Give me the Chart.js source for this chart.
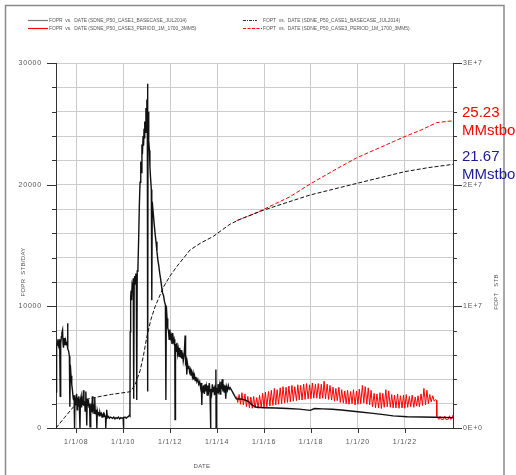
<!DOCTYPE html>
<html>
<head>
<meta charset="utf-8">
<script src="https://cdn.jsdelivr.net/npm/chart.js@4.4.0/dist/chart.umd.min.js"></script>
<style>
  html, body { margin: 0; padding: 0; background: #fff; }
</style>
</head>
<body>
<canvas id="fieldChart" width="516" height="475"></canvas>
<script>
// decimal years on x
const tickYears = [2008, 2010, 2012, 2014, 2016, 2018, 2020, 2022];

const seriesLabels = [
  'FOPR  vs.  DATE (SDNE_P50_CASE1_BASECASE_JUL2014)',
  'FOPT  vs.  DATE (SDNE_P50_CASE1_BASECASE_JUL2014)',
  'FOPR  vs.  DATE (SDNE_P50_CASE3_PERIOD_1M_1700_3MM5)',
  'FOPT  vs.  DATE (SDNE_P50_CASE3_PERIOD_1M_1700_3MM5)'
];

// FOPR base case, STB/DAY
const baseRate = [
  [2007.14, 4500], [2007.15, 6100], [2007.165, 2900], [2007.18, 6700], [2007.21, 7100], [2007.24, 6800],
  [2007.27, 7300], [2007.30, 6600], [2007.32, 2600], [2007.34, 6900], [2007.37, 7500], [2007.39, 7800],
  [2007.42, 8050], [2007.44, 6900], [2007.46, 6600], [2007.49, 7400], [2007.52, 6800], [2007.55, 7200],
  [2007.58, 6900], [2007.61, 7000], [2007.63, 8600], [2007.65, 6500], [2007.68, 6300], [2007.71, 5900],
  [2007.73, 1750], [2007.75, 5200], [2007.78, 4300], [2007.81, 3600], [2007.84, 3100], [2007.87, 2500],
  [2007.89, 2300], [2007.91, 2700], [2007.93, 0], [2007.95, 2400], [2007.97, 1900], [2007.99, 2300],
  [2008.02, 2800], [2008.04, 1500], [2008.06, 2500], [2008.09, 1800], [2008.11, 2600], [2008.13, 2200],
  [2008.16, 0], [2008.18, 2300], [2008.21, 2600], [2008.23, 1700], [2008.26, 2300], [2008.28, 1900],
  [2008.31, 3100], [2008.33, 1800], [2008.36, 2200], [2008.38, 1400], [2008.41, 3000], [2008.43, 2000],
  [2008.45, 200], [2008.47, 2400], [2008.50, 1800], [2008.52, 2300], [2008.55, 1700], [2008.57, 2000],
  [2008.59, 100], [2008.62, 1500], [2008.64, 2000], [2008.66, 1300], [2008.69, 2600], [2008.71, 1500],
  [2008.74, 1700], [2008.76, 1200], [2008.79, 2500], [2008.81, 1400], [2008.84, 1200], [2008.86, 1500],
  [2008.88, 0], [2008.90, 1400], [2008.93, 1100], [2008.95, 1300], [2008.98, 1000], [2009.01, 1300],
  [2009.04, 1100], [2009.07, 1200], [2009.10, 900], [2009.13, 1100], [2009.16, 1200], [2009.19, 950],
  [2009.22, 1050], [2009.25, 900], [2009.26, 0], [2009.28, 950], [2009.30, 1500], [2009.33, 850],
  [2009.37, 950], [2009.41, 800], [2009.45, 900], [2009.50, 850], [2009.55, 800], [2009.60, 900],
  [2009.65, 750], [2009.70, 850], [2009.75, 800], [2009.80, 900], [2009.85, 750], [2009.90, 850],
  [2009.95, 800], [2010.00, 850], [2010.01, 0], [2010.03, 850], [2010.08, 900], [2010.13, 800],
  [2010.18, 900], [2010.23, 950], [2010.27, 1050], [2010.29, 1000], [2010.30, 7900], [2010.32, 10800],
  [2010.34, 11300], [2010.36, 10500], [2010.38, 11700], [2010.41, 11400], [2010.43, 12300], [2010.45, 2400],
  [2010.47, 11800], [2010.49, 12500], [2010.51, 11900], [2010.54, 12700], [2010.56, 12200], [2010.58, 2300],
  [2010.60, 12900], [2010.63, 13200], [2010.66, 15500], [2010.69, 18300], [2010.72, 20200], [2010.75, 21900],
  [2010.77, 21000], [2010.80, 23300], [2010.82, 22500], [2010.85, 24000], [2010.87, 23200], [2010.89, 24600],
  [2010.91, 23800], [2010.93, 25200], [2010.95, 24300], [2010.97, 26300], [2010.99, 24800], [2011.01, 27000],
  [2011.03, 25500], [2011.04, 28300], [2011.05, 3000], [2011.06, 26000], [2011.08, 24900], [2011.10, 23600],
  [2011.12, 22800], [2011.14, 21500], [2011.16, 20800], [2011.20, 19600], [2011.22, 10500], [2011.24, 18600],
  [2011.28, 17700], [2011.32, 16800], [2011.36, 16000], [2011.40, 15300], [2011.44, 14500], [2011.48, 13800],
  [2011.52, 13300], [2011.56, 12700], [2011.60, 12200], [2011.64, 11600], [2011.68, 11100], [2011.72, 10900],
  [2011.76, 10400], [2011.80, 10100], [2011.82, 2300], [2011.84, 10000], [2011.87, 9000], [2011.90, 8200],
  [2011.93, 8000], [2011.96, 7300], [2011.99, 8100], [2012.02, 7400], [2012.05, 7600], [2012.08, 6900],
  [2012.11, 7800], [2012.14, 7100], [2012.17, 7300], [2012.20, 6700], [2012.21, 700], [2012.23, 6900],
  [2012.26, 6300], [2012.29, 7000], [2012.32, 6100], [2012.35, 6500], [2012.38, 5900], [2012.41, 6600],
  [2012.44, 5800], [2012.47, 6400], [2012.50, 5700], [2012.53, 6200], [2012.56, 5500], [2012.60, 6000],
  [2012.64, 7600], [2012.66, 5400], [2012.69, 5600], [2012.71, 4400], [2012.74, 5300], [2012.77, 4900],
  [2012.80, 5100], [2012.83, 4600], [2012.86, 4800], [2012.89, 4300], [2012.92, 4600], [2012.95, 4200],
  [2012.98, 4500], [2013.01, 4000], [2013.04, 4300], [2013.07, 3900], [2013.10, 4200], [2013.14, 3800],
  [2013.18, 4000], [2013.22, 3600], [2013.26, 3800], [2013.30, 3300], [2013.33, 3700], [2013.35, 1900],
  [2013.37, 3400], [2013.40, 2900], [2013.43, 3500], [2013.46, 2800], [2013.49, 3600], [2013.52, 3000],
  [2013.55, 3400], [2013.58, 2700], [2013.61, 3500], [2013.64, 3100], [2013.67, 3700], [2013.70, 2900],
  [2013.72, 0], [2013.74, 3200], [2013.77, 2800], [2013.80, 3600], [2013.83, 3000], [2013.86, 3400],
  [2013.89, 2700], [2013.92, 3500], [2013.95, 4800], [2013.96, 0], [2013.98, 3300], [2014.01, 2900],
  [2014.04, 3600], [2014.07, 3100], [2014.10, 3500], [2014.13, 2800], [2014.16, 3800], [2014.19, 3200],
  [2014.22, 4000], [2014.25, 3000], [2014.28, 3600], [2014.31, 2900], [2014.34, 3500], [2014.37, 2400],
  [2014.40, 3400], [2014.44, 3100], [2014.48, 3500], [2014.52, 3200], [2014.56, 3300], [2014.62, 3100],
  [2014.69, 2850], [2014.76, 2600], [2014.82, 2400], [2014.90, 2380], [2015.00, 2380], [2015.12, 2350],
  [2015.25, 2250], [2015.35, 2150], [2015.49, 1900], [2015.60, 1780], [2015.70, 1700], [2016.00, 1670],
  [2016.50, 1640], [2017.00, 1600], [2017.50, 1550], [2017.97, 1450], [2018.15, 1600], [2018.50, 1570],
  [2018.90, 1540], [2019.30, 1480], [2019.70, 1400], [2020.00, 1330], [2020.65, 1200], [2021.10, 1100],
  [2021.50, 1000], [2022.10, 930], [2022.70, 900], [2023.30, 880], [2024.05, 850]
];

// FOPR case 3 (periodic), STB/DAY
const caseRate = [
  [2014.84, 2600], [2014.88, 2100], [2014.94, 2750], [2015.00, 1950], [2015.06, 2900], [2015.12, 1900],
  [2015.19, 2800], [2015.25, 1750], [2015.31, 2600], [2015.38, 1650], [2015.44, 2550], [2015.50, 1620],
  [2015.56, 2600], [2015.62, 1640], [2015.69, 2500], [2015.75, 1620], [2015.81, 2700], [2015.88, 1680],
  [2015.94, 2850], [2016.00, 1700], [2016.06, 2950], [2016.12, 1750], [2016.19, 3000], [2016.25, 1800],
  [2016.31, 3100], [2016.38, 1850], [2016.44, 3250], [2016.50, 1900], [2016.56, 3150], [2016.62, 1950],
  [2016.69, 3300], [2016.75, 2000], [2016.81, 3400], [2016.88, 2050], [2016.94, 3350], [2017.00, 2100],
  [2017.06, 3450], [2017.12, 2150], [2017.19, 3500], [2017.25, 2200], [2017.31, 3400], [2017.38, 2250],
  [2017.44, 3550], [2017.50, 2300], [2017.56, 3500], [2017.62, 2300], [2017.69, 3600], [2017.75, 2350],
  [2017.81, 3650], [2017.88, 2400], [2017.94, 3550], [2018.00, 2400], [2018.06, 3700], [2018.12, 2450],
  [2018.19, 3600], [2018.25, 2450], [2018.31, 3650], [2018.38, 2400], [2018.44, 3600], [2018.50, 2450],
  [2018.56, 3850], [2018.62, 2400], [2018.69, 3600], [2018.75, 2350], [2018.81, 3500], [2018.88, 2300],
  [2018.94, 3350], [2019.00, 2200], [2019.06, 3250], [2019.12, 2250], [2019.19, 3350], [2019.25, 2100],
  [2019.31, 3150], [2019.38, 2050], [2019.44, 3050], [2019.50, 2000], [2019.56, 3100], [2019.62, 1950],
  [2019.69, 3000], [2019.75, 2000], [2019.81, 3150], [2019.88, 1900], [2019.94, 3050], [2020.00, 1950],
  [2020.06, 3200], [2020.12, 2000], [2020.19, 3500], [2020.25, 2050], [2020.31, 3400], [2020.38, 1950],
  [2020.44, 3300], [2020.50, 1900], [2020.56, 3100], [2020.62, 1750], [2020.69, 2850], [2020.75, 1650],
  [2020.81, 2800], [2020.88, 1650], [2020.94, 2900], [2021.00, 1600], [2021.06, 2850], [2021.12, 1700],
  [2021.19, 3150], [2021.25, 1750], [2021.31, 3050], [2021.38, 1700], [2021.44, 2750], [2021.50, 1650],
  [2021.56, 2700], [2021.62, 1650], [2021.69, 2800], [2021.75, 1620], [2021.81, 2650], [2021.88, 1650],
  [2021.94, 2700], [2022.00, 1620], [2022.06, 2750], [2022.12, 1700], [2022.19, 2600], [2022.25, 1750],
  [2022.31, 2700], [2022.38, 1700], [2022.44, 2550], [2022.50, 1800], [2022.56, 2650], [2022.62, 1750],
  [2022.69, 2800], [2022.75, 1850], [2022.81, 3250], [2022.88, 1900], [2022.94, 3100], [2023.00, 2000],
  [2023.06, 2750], [2023.12, 2150], [2023.19, 2650], [2023.25, 2200], [2023.31, 2350], [2023.35, 2280],
  [2023.36, 920], [2023.45, 700], [2023.50, 950], [2023.55, 700], [2023.65, 720], [2023.70, 980],
  [2023.75, 700], [2023.85, 720], [2023.90, 1000], [2023.95, 720], [2024.00, 760], [2024.05, 1070]
];

// FOPT, STB
const baseTotal = [
  [2007.14, 0], [2007.50, 850000], [2007.89, 1750000], [2008.31, 2300000], [2008.95, 2570000],
  [2009.50, 2760000], [2010.30, 2980000], [2010.50, 3500000], [2010.72, 4700000], [2010.86, 5900000],
  [2011.00, 7400000], [2011.18, 8900000], [2011.36, 9970000], [2011.72, 11600000], [2012.00, 12500000],
  [2012.28, 13260000], [2012.85, 14630000], [2013.30, 15200000], [2013.84, 15750000], [2014.55, 16750000],
  [2014.98, 17150000], [2015.97, 17900000], [2017.00, 18550000], [2017.96, 19150000], [2019.00, 19650000],
  [2019.94, 20100000], [2021.00, 20600000], [2022.00, 21070000], [2023.00, 21400000], [2024.05, 21670000]
];

const caseTotal = [
  [2014.84, 17050000], [2015.50, 17550000], [2015.97, 17950000], [2016.50, 18450000], [2017.10, 19000000],
  [2017.96, 20050000], [2019.00, 21200000], [2019.94, 22200000], [2021.00, 23100000], [2021.93, 23900000],
  [2022.70, 24500000], [2023.35, 25100000], [2024.05, 25250000]
];

const endLabels = [
  { lines: ['25.23', 'MMstbo'], color: '#ff0000', y: 117 },
  { lines: ['21.67', 'MMstbo'], color: '#1c1c96', y: 161 }
];

const toXY = arr => arr.map(p => ({ x: p[0], y: p[1] }));
const tickFont = { family: 'Liberation Sans, Arial, sans-serif', size: 7 };

const decor = {
  id: 'decor',
  beforeDraw(chart) {
    const ctx = chart.ctx;
    ctx.fillStyle = '#fff';
    ctx.fillRect(0, 0, chart.width, chart.height);
    ctx.strokeStyle = '#8a8a8a';
    ctx.lineWidth = 1.5;
    ctx.strokeRect(5.5, 5.5, 498.5, 490);
    ctx.letterSpacing = '0.8px';
  },
  afterDraw(chart) {
    const ctx = chart.ctx;
    const { x, y, y2 } = chart.scales;
    const seg = (x1, y1, x2, y2_) => { ctx.beginPath(); ctx.moveTo(x1, y1); ctx.lineTo(x2, y2_); ctx.stroke(); };
    ctx.save();
    ctx.strokeStyle = '#333';
    ctx.lineWidth = 1;
    ctx.setLineDash([]);
    y.ticks.forEach(t => {
      const py = Math.round(y.getPixelForValue(t.value)) + 0.5;
      seg(y.right - (t.value % 10000 === 0 ? 9 : 4), py, y.right, py);
    });
    y2.ticks.forEach(t => {
      const py = Math.round(y2.getPixelForValue(t.value)) + 0.5;
      seg(y2.left, py, y2.left + (t.value % 1e7 === 0 ? 9 : 4), py);
    });
    x.ticks.forEach(t => {
      const px = Math.round(x.getPixelForValue(t.value)) + 0.5;
      seg(px, x.top, px, x.top + 5);
    });

    // axis titles
    ctx.fillStyle = '#555';
    ctx.letterSpacing = '0.3px';
    ctx.font = '6px Liberation Sans, Arial, sans-serif';
    ctx.textAlign = 'center';
    ctx.textBaseline = 'middle';
    ctx.fillText('DATE', 202, 466);
    ctx.save();
    ctx.translate(23, 272);
    ctx.rotate(-Math.PI / 2);
    ctx.fillText('FOPR  STB/DAY', 0, 0);
    ctx.restore();
    ctx.save();
    ctx.translate(496, 292);
    ctx.rotate(-Math.PI / 2);
    ctx.fillText('FOPT   STB', 0, 0);
    ctx.restore();

    // legend
    ctx.letterSpacing = '0px';
    ctx.font = '4.9px Liberation Sans, Arial, sans-serif';
    ctx.textAlign = 'left';
    const legendRows = [
      { x1: 28, x2: 48, tx: 49, y: 20.5, color: '#777', dash: [], label: seriesLabels[0] },
      { x1: 28, x2: 48, tx: 49, y: 28.5, color: '#ff0000', dash: [], label: seriesLabels[2] },
      { x1: 243, x2: 257, tx: 263, y: 20.5, color: '#333', dash: [3, 1, 1, 1], label: seriesLabels[1] },
      { x1: 243, x2: 262, tx: 263, y: 28.5, color: '#ff0000', dash: [3, 1.5], label: seriesLabels[3] }
    ];
    legendRows.forEach(r => {
      ctx.strokeStyle = r.color;
      ctx.lineWidth = 1.2;
      ctx.setLineDash(r.dash);
      seg(r.x1, r.y, r.x2, r.y);
      ctx.fillStyle = '#555';
      ctx.fillText(r.label, r.tx, r.y);
    });
    ctx.setLineDash([]);

    // end-of-run totals
    ctx.font = '15px Liberation Sans, Arial, sans-serif';
    ctx.textBaseline = 'alphabetic';
    endLabels.forEach(l => {
      ctx.fillStyle = l.color;
      ctx.fillText(l.lines[0], 462, l.y);
      ctx.fillText(l.lines[1], 462, l.y + 18);
    });
    ctx.restore();
  }
};

new Chart(document.getElementById('fieldChart'), {
  type: 'line',
  data: {
    datasets: [
      { label: seriesLabels[0], data: toXY(baseRate), borderColor: '#111', borderWidth: 1.4, yAxisID: 'y' },
      { label: seriesLabels[1], data: toXY(baseTotal), borderColor: '#111', borderWidth: 1, borderDash: [4, 2], yAxisID: 'y2' },
      { label: seriesLabels[2], data: toXY(caseRate), borderColor: '#ff0000', borderWidth: 1, yAxisID: 'y' },
      { label: seriesLabels[3], data: toXY(caseTotal), borderColor: '#ff0000', borderWidth: 1, borderDash: [4, 2], yAxisID: 'y2' }
    ]
  },
  options: {
    responsive: false,
    animation: false,
    devicePixelRatio: 1,
    layout: { padding: { top: 63, left: 0, right: 0, bottom: 0 } },
    elements: { point: { radius: 0 }, line: { tension: 0 } },
    plugins: { legend: { display: false }, tooltip: { enabled: false } },
    scales: {
      x: {
        type: 'linear',
        min: 2007.14,
        max: 2024.05,
        afterBuildTicks: s => { s.ticks = tickYears.map(v => ({ value: v })); },
        afterFit: s => { s.height = 47; },
        grid: { color: '#cccccc', drawTicks: false },
        border: { color: '#333' },
        ticks: {
          padding: 10, color: '#555', font: tickFont, maxRotation: 0, autoSkip: false,
          callback: v => '1/1/' + String(v).slice(2)
        }
      },
      y: {
        position: 'left',
        min: 0,
        max: 30000,
        afterFit: s => { s.width = 56; },
        grid: { color: '#cccccc', drawTicks: false },
        border: { color: '#333' },
        ticks: {
          stepSize: 2000, padding: 14, color: '#555', font: tickFont, autoSkip: false,
          callback: v => (v % 10000 === 0 ? String(v) : '')
        }
      },
      y2: {
        position: 'right',
        min: 0,
        max: 30000000,
        afterFit: s => { s.width = 63; },
        grid: { drawOnChartArea: false, drawTicks: false },
        border: { color: '#333' },
        ticks: {
          stepSize: 2000000, padding: 10, color: '#555', font: tickFont, autoSkip: false,
          callback: v => (v % 10000000 === 0 ? (v / 10000000) + 'E+' + (v ? 7 : 0) : '')
        }
      }
    }
  },
  plugins: [decor]
});
</script>
</body>
</html>
